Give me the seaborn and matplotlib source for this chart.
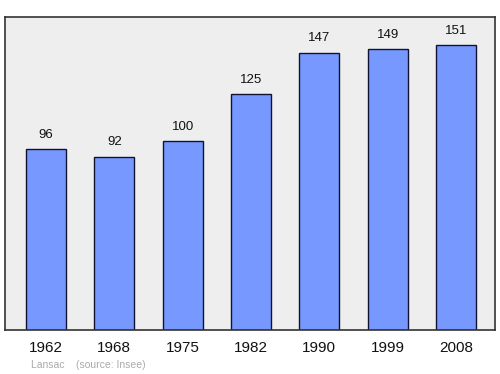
import matplotlib
matplotlib.use("Agg")
import matplotlib.pyplot as plt
import seaborn as sns
import pandas as pd

years = ["1962", "1968", "1975", "1982", "1990", "1999", "2008"]
population = [96, 92, 100, 125, 147, 149, 151]

sns.set_style("white")
plt.rcParams['font.family'] = ['Liberation Sans', 'DejaVu Sans']

df = pd.DataFrame({"year": years, "pop": population})

fig = plt.figure(figsize=(5, 3.74), dpi=100)
ax = fig.add_axes([0.01, 1 - 330/374, 0.98, (330 - 17)/374])
sns.barplot(data=df, x="year", y="pop", color="#7799ff", saturation=1,
            width=0.585, edgecolor="#111133", linewidth=1, ax=ax)
ax.set_facecolor("#eeeeee")
ax.set_ylim(0, 166)
ax.set_xlim(-0.6, 6.57)
for i, v in enumerate(population):
    ax.text(i, v + 4.5, str(v), ha="center", va="bottom", fontsize=9.5, color="#111111")
ax.set_yticks([])
ax.set_xlabel("")
ax.set_ylabel("")
ax.tick_params(axis="x", length=0, labelsize=11, pad=8, colors="#111111")
for s in ax.spines.values():
    s.set_visible(True)
    s.set_color("#333333")
    s.set_linewidth(1.2)
fig.text(31/500, 1 - 365/374, "Lansac    (source: Insee)", fontsize=7.5, color="#aaaaaa", va="center")
fig.savefig("out.png", dpi=100)
